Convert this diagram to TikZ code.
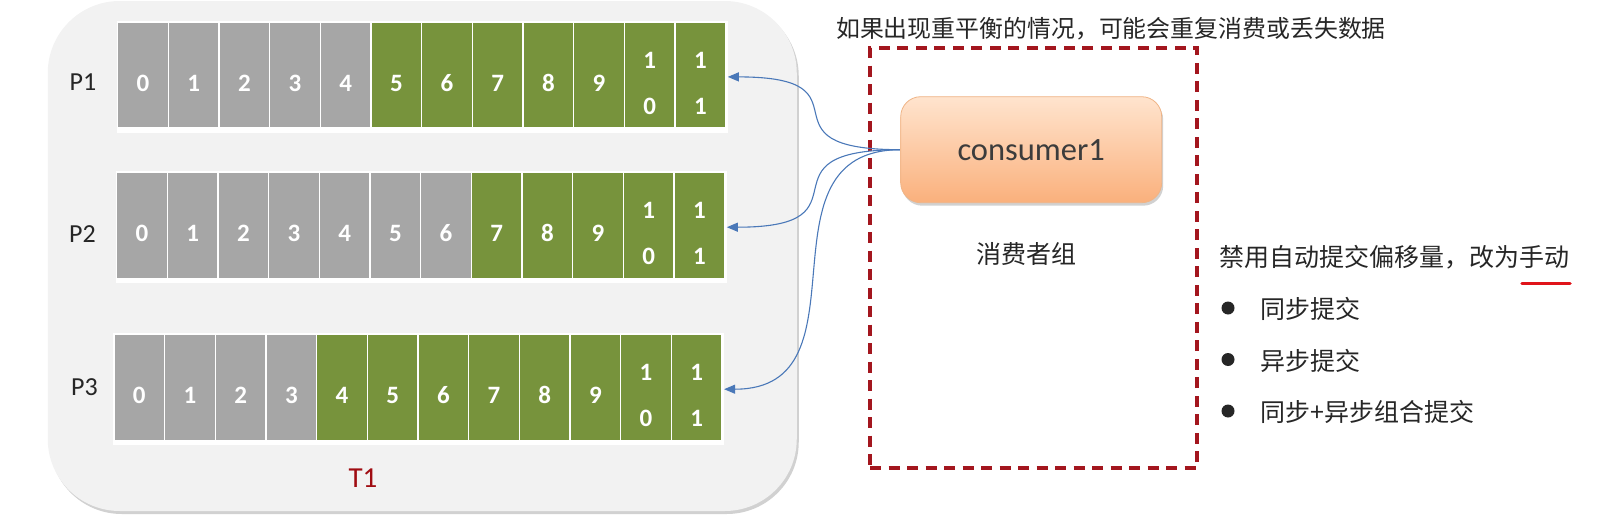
\documentclass[tikz,border=0pt]{standalone}
\usepackage{fontspec}
\setmainfont{Carlito}
\newfontfamily\cjk{Noto Sans CJK SC}
\newfontfamily\numfont{Carlito Bold}
\usetikzlibrary{arrows.meta,positioning,shadows}
\definecolor{topicbg}{HTML}{F2F2F2}
\definecolor{cellgray}{HTML}{A6A6A6}
\definecolor{cellgreen}{HTML}{77933C}
\definecolor{grpred}{HTML}{A3161E}
\definecolor{linkblue}{HTML}{4A78B8}
\definecolor{contop}{HTML}{FFE4CE}
\definecolor{conbot}{HTML}{FAB07C}
\definecolor{conline}{HTML}{EFB486}
\definecolor{txtdark}{HTML}{262626}
\definecolor{tred}{HTML}{A00C12}
\definecolor{ured}{HTML}{E0141A}

\begin{document}
\begin{tikzpicture}[x=1pt,y=-1pt,
			topic/.style={fill=topicbg,rounded corners=72pt,minimum width=749pt,minimum height=510pt,inner sep=0pt,drop shadow={shadow xshift=2pt,shadow yshift=-3pt,opacity=0.18,fill=black}},
			rowbg/.style={fill=white,minimum width=611pt,minimum height=112pt,inner sep=0pt,outer sep=0pt},
			cell/.style={draw=white,line width=1.5pt,minimum width=50.67pt,minimum height=106pt,inner sep=0pt,outer sep=0pt},
			digit/.style={text=white,align=center,inner sep=0pt,font=\numfont\fontsize{25}{46}\selectfont},
			plabel/.style={inner sep=0pt,text=txtdark,font=\fontsize{26}{30}\selectfont},
			tlabel/.style={inner sep=0pt,text=tred,font=\fontsize{29}{32}\selectfont},
			conbox/.style={top color=contop,bottom color=conbot,draw=conline,line width=0.8pt,rounded corners=20pt,minimum width=261pt,minimum height=106pt,text=txtdark!90,font=\fontsize{32.5}{35}\selectfont,drop shadow={shadow xshift=1.5pt,shadow yshift=-3pt,opacity=0.3,fill=black!60}},
			grpbox/.style={draw=grpred,line width=3.3pt,dash pattern=on 11pt off 7.5pt,minimum width=327pt,minimum height=420pt,inner sep=0pt},
			note/.style={inner sep=0pt,text=txtdark,font=\cjk\fontsize{25}{28}\selectfont},
			dot/.style={circle,fill=txtdark,minimum size=13pt,inner sep=0pt},
			link/.style={-{Triangle[length=11pt,width=9pt]},linkblue,line width=1.1pt},
			uline/.style={ured,line width=3.5pt,line cap=round}
			]
			\useasboundingbox (0,0) rectangle (1604,522);
			\node[topic] (topic) at (422.25,256) {};
			\foreach \r/\x/\y/\g/\lx/\ly in {1/117.7/22/5/83/82,2/116.7/172.3/7/82.5/234,3/114/334.3/4/84.5/387}{
				\node[rowbg] (p\r) at (\x+304.6,\y+54.9) {};
				\node[plabel] (lab\r) at (\lx,\ly) {P\r};
				\foreach \i in {0,...,11}{
					\ifnum\i<\g \def\cellcol{cellgray}\else\def\cellcol{cellgreen}\fi
					\node[cell,fill=\cellcol] (c\r-\i) at (\x+25.33+\i*50.67,\y+53) {};
					\ifnum\i<10
						\node[digit] at ([yshift=-8pt]c\r-\i.center) {\i};
					\else
						\pgfmathtruncatemacro\dig{\i-10}
						\node[digit] at ([yshift=-8pt]c\r-\i.center) {1\\\dig};
					\fi
				}
			}
			\node[tlabel] (t1) at (363,478) {T1};
			\node[grpbox] (group) at (1033.5,258) {};
			\foreach \r in {1,2,3}
				\draw[link] (900.6,149.7) .. controls +(-150,0) and +(150,0) .. (p\r.east);
			\node[conbox] (con) at (1031.2,149.7) {consumer1};
			\node[note] (grp) at (1026.7,254) {消费者组};
			\node[note,anchor=east,font=\cjk\fontsize{23.9}{27}\selectfont] (warn) at (1386,29) {如果出现重平衡的情况，可能会重复消费或丢失数据};
			\node[note,anchor=west] (fix) at (1219,257.5) {禁用自动提交偏移量，改为手动};
			\draw[uline] (1522,283.5) -- (1570,283.5);
			\foreach \t [count=\k] in {同步提交,异步提交,同步+异步组合提交}{
				\node[dot] (b\k) at (1228,308+\k*51.5-51.5) {};
				\node[note,anchor=west] (item\k) at (1260,309+\k*51.5-51.5) {\t};
			}
		\end{tikzpicture}
\end{document}
